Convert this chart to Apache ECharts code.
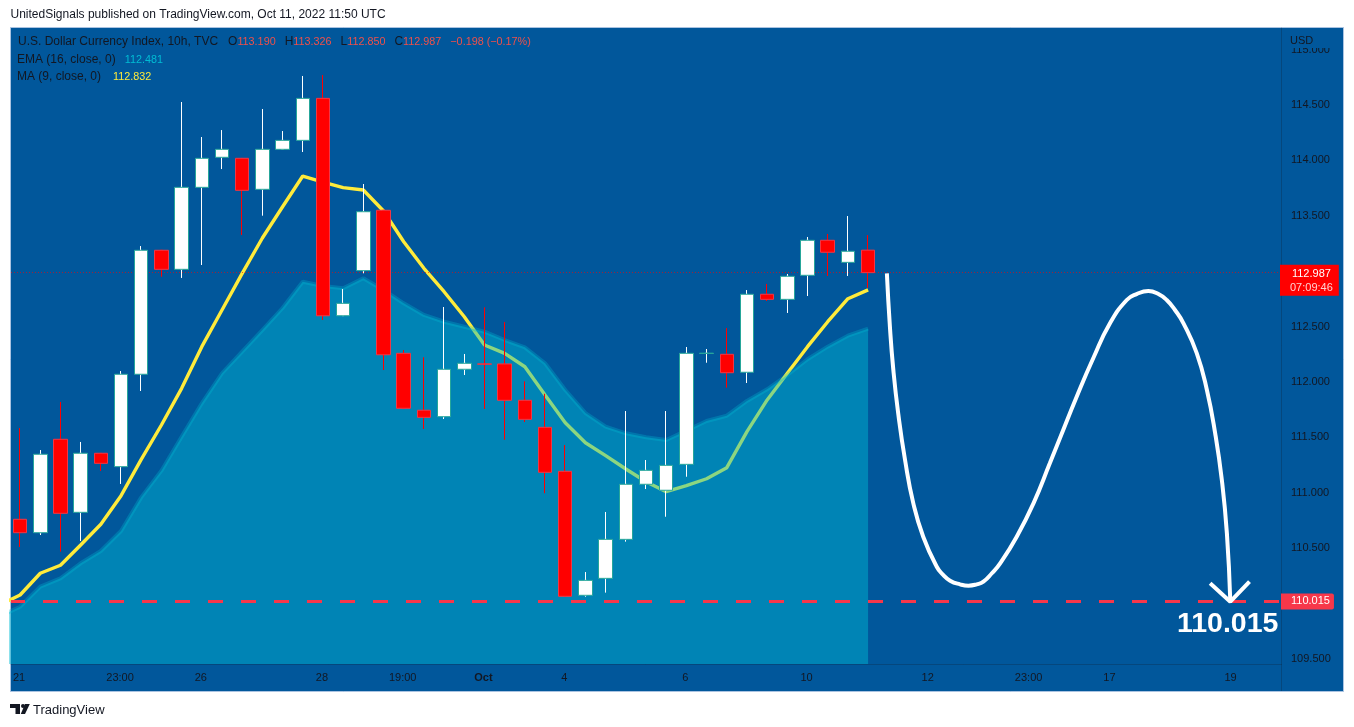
<!DOCTYPE html>
<html>
<head>
  <meta charset="utf-8" />
  <title>U.S. Dollar Currency Index, 10h</title>
  <script src="https://cdn.jsdelivr.net/npm/echarts/dist/echarts.min.js"></script>
  <style>
    html, body { margin: 0; padding: 0; background: #fff; }
    #chart { width: 1354px; height: 727px; }
  </style>
</head>
<body>
  <div id="chart"></div>
  <script>
    // candles, one per 10h bar
    const opens  = [110.761,110.640,111.483,110.824,111.357,111.236,112.070,113.189,113.017,113.757,114.028,114.019,113.739,114.100,114.181,114.560,112.598,113.005,113.550,112.259,111.745,111.687,112.115,112.163,112.163,111.835,111.591,111.194,110.075,110.228,110.580,111.077,111.023,111.257,112.258,112.250,112.088,112.792,112.746,112.963,113.279,113.080,113.190];
    const closes = [110.640,111.348,110.815,111.357,111.266,112.070,113.189,113.017,113.757,114.019,114.100,113.730,114.100,114.181,114.560,112.598,112.710,113.537,112.246,111.763,111.681,112.115,112.169,112.161,111.835,111.663,111.185,110.066,110.210,110.580,111.077,111.203,111.248,112.259,112.260,112.084,112.792,112.746,112.954,113.279,113.171,113.180,112.987];
    const highs  = [111.585,111.386,111.820,111.459,111.357,112.099,113.227,113.189,114.527,114.211,114.274,114.019,114.464,114.265,114.762,114.771,112.839,113.787,113.550,112.289,112.223,112.677,112.253,112.674,112.542,112.006,111.894,111.431,110.285,110.827,111.738,111.296,111.738,112.316,112.298,112.487,112.830,112.885,112.975,113.309,113.336,113.498,113.326];
    const lows   = [110.511,110.619,110.469,110.565,111.197,111.080,111.919,112.950,112.939,113.056,113.922,113.327,113.501,114.100,114.076,112.560,112.598,112.981,112.108,111.763,111.576,111.666,112.063,111.756,111.479,111.639,110.996,110.066,110.062,110.099,110.559,111.034,110.784,111.145,112.174,111.949,111.991,112.731,112.623,112.776,112.957,112.957,112.850];

    // moving averages; they start one bar before the first candle, off the left edge
    const maBars = [-1,0,1,2,3,4,5,6,7,8,9,10,11,12,13,14,15,16,17,18,19,20,21,22,23,24,25,26,27,28,29,30,31,32,33,34,35,36,37,38,39,40,41,42];
    const maValues  = [109.991,110.078,110.274,110.346,110.529,110.716,110.974,111.302,111.612,111.943,112.319,112.650,112.981,113.300,113.582,113.859,113.805,113.754,113.733,113.543,113.266,113.026,112.815,112.589,112.334,112.259,112.138,111.883,111.633,111.452,111.335,111.215,111.100,111.010,111.064,111.127,111.227,111.552,111.838,112.079,112.319,112.544,112.752,112.832];
    const emaValues = [109.886,109.972,110.153,110.228,110.364,110.475,110.655,110.959,111.200,111.506,111.808,112.079,112.274,112.469,112.668,112.905,112.866,112.846,112.936,112.830,112.710,112.605,112.544,112.499,112.454,112.379,112.313,112.169,111.928,111.720,111.597,111.537,111.501,111.477,111.561,111.648,111.696,111.829,111.934,112.063,112.205,112.319,112.418,112.481];

    // hand drawn forecast path, in bar index / price
    const forecastBars   = [42.93,43.08,43.25,43.49,43.83,44.24,44.73,45.40,45.73,46.06,46.55,46.97,47.38,47.71,48.13,48.54,49.36,50.19,51.00,51.50,52.33,53.15,53.98,54.81,55.30,55.88,56.38,56.79,57.20,57.62,58.28,58.78,59.19,59.52,59.77,59.94];
    const forecastPrices = [112.981,112.499,112.108,111.718,111.296,110.905,110.604,110.333,110.258,110.207,110.174,110.162,110.174,110.198,110.274,110.364,110.604,110.905,111.266,111.492,111.867,112.214,112.530,112.740,112.794,112.821,112.794,112.740,112.650,112.530,112.259,111.928,111.537,111.116,110.635,110.017];
    const arrowBars   = [58.94,59.94,60.89];
    const arrowPrices = [110.183,110.017,110.198];

    const targetPrice = 110.015;
    const lastPrice = 112.987;
    const countdown = '07:09:46';

    const timeTicks  = [0,5,9,15,19,23,27,33,39,45,50,54,60];
    const timeLabels = ['21','23:00','26','28','19:00','Oct','4','6','10','12','23:00','17','19'];
    const priceTicks = [109.5,110,110.5,111,111.5,112,112.5,113,113.5,114,114.5,115];

    const BG = '#01579b';
    const TEXT = '#131722';
    const FONT = '"Liberation Sans", Arial, sans-serif';

    const chart = echarts.init(document.getElementById('chart'));

    function legendLine(left, top, text, rich) {
      return { left: left, top: top, padding: 0, text: text, textStyle: { fontFamily: FONT, fontSize: 12, fontWeight: 'normal', color: TEXT, rich: rich } };
    }
    const valueStyle = c => ({ color: c, fontFamily: FONT, fontSize: 10.8 });

    chart.setOption({
      animation: false,
      backgroundColor: '#ffffff',
      textStyle: { fontFamily: FONT },
      grid: { left: 11, right: 73, top: 28, bottom: 63, containLabel: false },
      title: [
        { left: 10.5, top: 9, padding: 0, text: 'UnitedSignals published on TradingView.com, Oct 11, 2022 11:50 UTC', textStyle: { fontFamily: FONT, fontSize: 12, fontWeight: 'normal', color: TEXT } },
        legendLine(18, 36, 'U.S. Dollar Currency Index, 10h, TVC   O{r|113.190}{r|   }H{r|113.326}{r|   }L{r|112.850}{r|   }C{r|112.987}{r|   }{r|\u22120.198 (\u22120.17%)}', { r: valueStyle('#f0504a') }),
        legendLine(17, 54, 'EMA (16, close, 0){c|   112.481}', { c: valueStyle('#00bcd4') }),
        legendLine(17, 71, 'MA (9, close, 0){y|    112.832}', { y: valueStyle('#ffeb3b') }),
        { left: 1282, top: 29, padding: [6, 29, 2, 8], backgroundColor: BG, text: 'USD', textStyle: { fontFamily: FONT, fontSize: 11, fontWeight: 'normal', color: TEXT } },
        { left: 33, top: 704, padding: 0, text: 'TradingView', textStyle: { fontFamily: FONT, fontSize: 13, fontWeight: 'normal', color: TEXT } }
      ],
      xAxis: {
        type: 'value',
        min: -0.4507,
        max: 62.45,
        axisLine: { show: true, onZero: false, lineStyle: { color: 'rgba(19,23,34,0.25)' } },
        axisTick: { show: false },
        splitLine: { show: false },
        axisLabel: {
          customValues: timeTicks,
          margin: 8,
          padding: [0, 2, 0, 0],
          color: TEXT,
          fontSize: 11,
          fontFamily: FONT,
          formatter: v => {
            const s = timeLabels[timeTicks.indexOf(v)];
            return s === 'Oct' ? '{b|Oct}' : s;
          },
          rich: { b: { fontWeight: 'bold', color: TEXT, fontSize: 11, fontFamily: FONT } }
        }
      },
      yAxis: {
        type: 'value',
        position: 'right',
        min: 109.455,
        max: 115.195,
        axisLine: { show: true, onZero: false, lineStyle: { color: 'rgba(19,23,34,0.25)' } },
        axisTick: { show: false },
        splitLine: { show: false },
        axisLabel: {
          customValues: priceTicks,
          margin: 10,
          padding: [2, 0, 0, 0],
          color: TEXT,
          fontSize: 11,
          fontFamily: FONT,
          formatter: v => v.toFixed(3)
        }
      },
      graphic: [
        { type: 'rect', z: -10, shape: { x: 10.5, y: 27.5, width: 1333, height: 664 }, style: { fill: BG, stroke: '#aac3e1', lineWidth: 1 } },
        { type: 'line', z: 1, shape: { x1: 1281.5, y1: 664, x2: 1281.5, y2: 691 }, style: { stroke: 'rgba(19,23,34,0.25)', lineWidth: 1 } },
        // TradingView mark
        { type: 'polygon', shape: { points: [[10, 704], [20, 704], [20, 714], [15.5, 714], [15.5, 708], [10, 708]] }, style: { fill: TEXT } },
        { type: 'circle', shape: { cx: 23, cy: 706, r: 2 }, style: { fill: TEXT } },
        { type: 'polygon', shape: { points: [[25, 704], [29.8, 704], [25, 714], [20.8, 714]] }, style: { fill: TEXT } }
      ],
      series: [
        {
          // 110.015 target line sits under the EMA area
          name: 'Target',
          type: 'line',
          z: 2,
          data: [],
          markLine: {
            silent: true,
            symbol: 'none',
            animation: false,
            lineStyle: { color: '#f7374a', width: 3, type: [15, 18], dashOffset: 1 },
            label: {
              position: 'end',
              distance: 0,
              formatter: targetPrice.toFixed(3),
              color: '#fff',
              fontSize: 11,
              fontFamily: FONT,
              backgroundColor: '#f7374a',
              borderRadius: [0, 2, 2, 0],
              padding: [3, 4, 2, 10]
            },
            data: [{ yAxis: targetPrice }]
          }
        },
        {
          name: 'MA (9, close, 0)',
          type: 'line',
          z: 2,
          showSymbol: false,
          lineStyle: { color: '#ffeb3b', width: 3.4 },
          data: maBars.map((b, i) => [b, maValues[i]])
        },
        {
          name: 'EMA (16, close, 0)',
          type: 'line',
          z: 3,
          showSymbol: false,
          lineStyle: { color: 'rgba(0,188,212,0.3)', width: 4 },
          areaStyle: { color: 'rgba(0,188,212,0.45)', origin: 'start', opacity: 1 },
          data: maBars.map((b, i) => [b, emaValues[i]])
        },
        {
          // wicks only, narrow bodies stay hidden under the next series
          name: 'Wicks',
          type: 'candlestick',
          z: 5,
          barWidth: 2,
          encode: { x: 0, y: [1, 2, 3, 4] },
          itemStyle: { color: '#ffffff', color0: '#ff0000', borderColor: '#ffffff', borderColor0: '#ff0000', borderColorDoji: '#ffffff', borderWidth: 1 },
          data: opens.map((o, i) => [i, o, closes[i], lows[i], highs[i]])
        },
        {
          name: 'Bodies',
          type: 'candlestick',
          z: 5,
          barWidth: 14,
          encode: { x: 0, y: [1, 2, 3, 4] },
          itemStyle: { color: '#ffffff', color0: '#ff0000', borderColor: '#26a69a', borderColor0: '#f23645', borderWidth: 1 },
          data: opens.map((o, i) => [i, o, closes[i], Math.min(o, closes[i]), Math.max(o, closes[i])])
        },
        {
          name: 'Forecast',
          type: 'line',
          z: 6,
          smooth: 0.5,
          showSymbol: false,
          lineStyle: { color: '#ffffff', width: 4 },
          data: forecastBars.map((b, i) => [b, forecastPrices[i]])
        },
        {
          name: 'Arrow',
          type: 'line',
          z: 6,
          showSymbol: false,
          lineStyle: { color: '#ffffff', width: 4 },
          data: arrowBars.map((b, i) => [b, arrowPrices[i]])
        },
        {
          name: 'Target label',
          type: 'scatter',
          z: 6,
          symbolSize: 0,
          itemStyle: { opacity: 1 },
          label: {
            show: true,
            position: 'inside',
            formatter: targetPrice.toFixed(3),
            color: '#ffffff',
            opacity: 1,
            fontSize: 28.5,
            fontWeight: 'bold',
            fontFamily: FONT
          },
          data: [[59.81, 109.816]]
        },
        {
          // last price: dotted line runs over the candles
          name: 'Last',
          type: 'line',
          z: 7,
          data: [],
          markLine: {
            silent: true,
            symbol: 'none',
            animation: false,
            lineStyle: { color: 'rgba(255,0,0,0.6)', width: 1, type: [1, 2] },
            label: {
              position: 'end',
              distance: 0,
              offset: [-1, 8],
              formatter: '{a|' + lastPrice.toFixed(3) + '}\n{b|' + countdown + '}',
              backgroundColor: '#ff0000',
              padding: [2, 6, 1, 10],
              rich: {
                a: { color: '#fff', fontSize: 11, fontFamily: FONT, lineHeight: 14, align: 'center' },
                b: { color: '#ffd0d0', fontSize: 11, fontFamily: FONT, lineHeight: 14, align: 'center' }
              }
            },
            data: [{ yAxis: lastPrice }]
          }
        }
      ]
    });
  </script>
</body>
</html>
